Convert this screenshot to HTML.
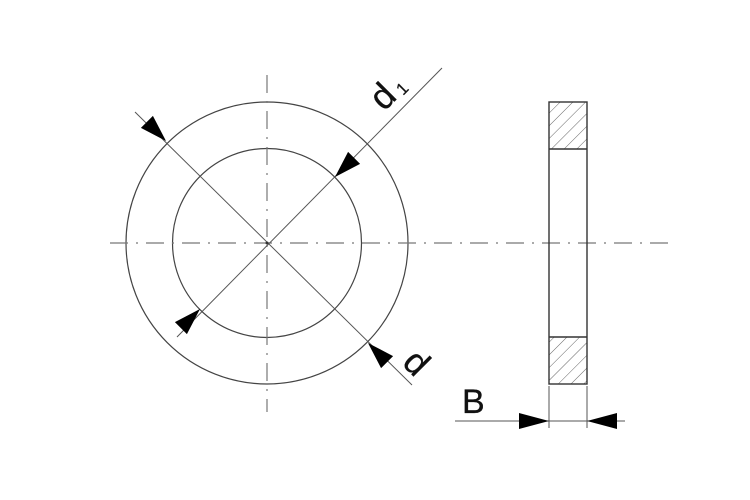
<!DOCTYPE html>
<html><head><style>html,body{margin:0;padding:0;background:#fff;}svg{display:block}</style></head>
<body>
<svg width="750" height="500" viewBox="0 0 750 500" xmlns="http://www.w3.org/2000/svg">
<g fill="none" stroke="#444" stroke-width="1.2">
<circle cx="267" cy="243" r="141"/>
<circle cx="267" cy="243" r="94.5"/>
</g>
<g stroke="#777" stroke-width="1.2" stroke-dasharray="18,8,2,8">
<line x1="110" y1="243" x2="668" y2="243"/>
<line x1="267" y1="75" x2="267" y2="412"/>
</g>
<g stroke="#555" stroke-width="1">
<line x1="135" y1="112" x2="412" y2="385"/>
<line x1="442" y1="68" x2="177" y2="337"/>
<line x1="549" y1="386" x2="549" y2="428"/>
<line x1="587" y1="386" x2="587" y2="428"/>
<line x1="455" y1="421" x2="625" y2="421"/>
</g>
<circle cx="267" cy="243" r="1.5" fill="#333"/>
<g fill="#000">
<polygon points="0,0 -27,-8.5 -27,8.5" transform="translate(166,141) rotate(45)"/>
<polygon points="0,0 -27,-8.5 -27,8.5" transform="translate(368,343) rotate(225)"/>
<polygon points="0,0 -27,-8.5 -27,8.5" transform="translate(335,177) rotate(135)"/>
<polygon points="0,0 -27,-8.5 -27,8.5" transform="translate(200,309) rotate(-45)"/>
<polygon points="0,0 -30,-8 -30,8" transform="translate(549,421)"/>
<polygon points="0,0 -30,-8 -30,8" transform="translate(587,421) rotate(180)"/>
</g>
<defs>
<pattern id="h" patternUnits="userSpaceOnUse" width="9" height="9" patternTransform="rotate(45)">
<line x1="0" y1="0" x2="0" y2="9" stroke="#666" stroke-width="1"/>
</pattern>
</defs>
<rect x="549" y="102" width="38" height="47" fill="url(#h)"/>
<rect x="549" y="337" width="38" height="47" fill="url(#h)"/>
<g fill="none" stroke="#333" stroke-width="1.4">
<rect x="549" y="102" width="38" height="282"/>
<line x1="549" y1="149" x2="587" y2="149"/>
<line x1="549" y1="337" x2="587" y2="337"/>
</g>
<g font-family="Liberation Sans, sans-serif" fill="#111" stroke="#111" stroke-width="0.3">
<text x="0" y="0" font-size="36" transform="translate(384,112) rotate(-45)">d</text>
<text x="0" y="0" font-size="17" stroke-width="0.2" transform="translate(403,96) rotate(-45)">1</text>
<text x="0" y="0" font-size="36" transform="translate(401,364) rotate(45)">d</text>
<text x="462" y="413" font-size="34">B</text>
</g>
</svg>
</body></html>
